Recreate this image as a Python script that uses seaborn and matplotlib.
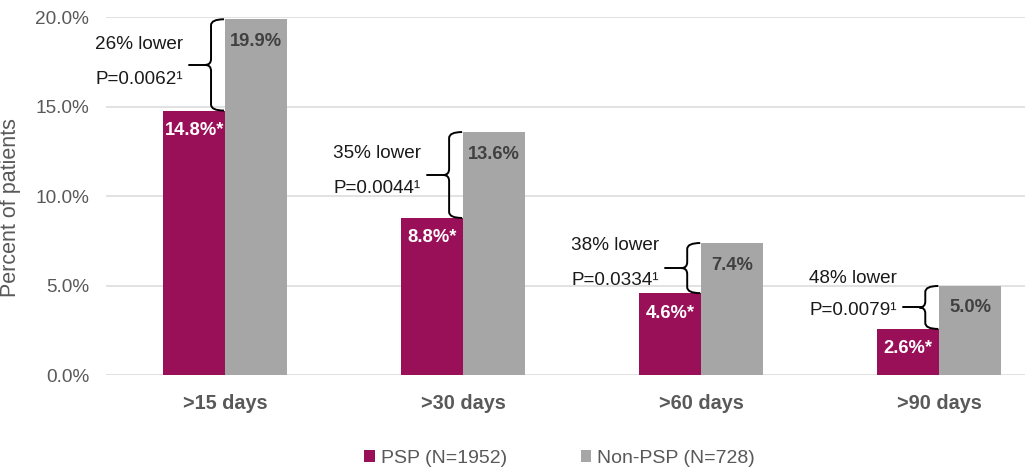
import numpy as np
import pandas as pd
import matplotlib
matplotlib.use("Agg")
import matplotlib.pyplot as plt
import seaborn as sns
from matplotlib.path import Path
from matplotlib.patches import PathPatch, Patch
from matplotlib.lines import Line2D

# data
periods = [">15 days", ">30 days", ">60 days", ">90 days"]
groups = ["PSP (N=1952)", "Non-PSP (N=728)"]
psp_pct = [14.8, 8.8, 4.6, 2.6]
non_psp_pct = [19.9, 13.6, 7.4, 5.0]
pct_lower = ["26% lower", "35% lower", "38% lower", "48% lower"]
p_values = ["P=0.0062\u00b9", "P=0.0044\u00b9", "P=0.0334\u00b9", "P=0.0079\u00b9"]

df = pd.DataFrame({
    "period": periods * 2,
    "group": [groups[0]] * 4 + [groups[1]] * 4,
    "pct": psp_pct + non_psp_pct,
})

sns.set_theme(style="white")
plt.rcParams["font.family"] = ["Liberation Sans", "DejaVu Sans"]

colors = ["#990F58", "#A6A6A6"]
text_gray = "#595959"

fig = plt.figure(figsize=(10.25, 4.69), dpi=100)
ax = fig.add_axes([0.1034, 0.1994, 0.8966, 0.7633])

sns.barplot(data=df, x="period", y="pct", hue="group", palette=colors,
            width=0.52, saturation=1, linewidth=0, ax=ax, legend=False, zorder=2)

ax.set_ylim(0, 20)
ax.set_xlim(-0.5, 3.36)
ax.set_yticks([0, 5, 10, 15, 20])
ax.set_yticklabels([f"{v:.1f}%" for v in [0, 5, 10, 15, 20]])
ax.yaxis.grid(True, color="#DDDDDD", linewidth=1.2, zorder=0)
ax.set_axisbelow(True)
for s in ax.spines.values():
    s.set_visible(False)
ax.tick_params(axis="y", length=0, pad=12, labelsize=13.7, labelcolor=text_gray)
ax.tick_params(axis="x", length=0, pad=13, labelsize=14.3)
for lab in ax.get_xticklabels():
    lab.set_fontweight("bold")
    lab.set_color(text_gray)
ax.set_xlabel("")
ax.set_ylabel("Percent of patients", fontsize=15.5, color=text_gray)
ax.yaxis.set_label_coords(-0.092, 0.47)

# value labels inside the bar tops
for i, (a, b) in enumerate(zip(psp_pct, non_psp_pct)):
    ax.annotate(f"{a:.1f}%*", (i - 0.13, a), xytext=(0, -20), textcoords="offset pixels",
                ha="center", va="center", fontsize=13.2, fontweight="bold", color="white")
    ax.annotate(f"{b:.1f}%", (i + 0.13, b), xytext=(0, -22), textcoords="offset pixels",
                ha="center", va="center", fontsize=13.2, fontweight="bold", color="#404040")

# braces with notes
fig.canvas.draw()
note_dy = [(20, -15), (22, -13), (23, -12), (29, -3)]
for i, (a, b) in enumerate(zip(psp_pct, non_psp_pct)):
    xc, y_bot = ax.transData.transform((i, a))
    _, y_top = ax.transData.transform((i, b))
    y_mid = (y_top + y_bot) / 2
    x_end, x_v, x_tip = xc - 1, xc - 14, xc - 20
    r = 6
    verts = [(x_end, y_top), (x_v, y_top), (x_v, y_top - r),
             (x_v, y_mid + r),
             (x_v, y_mid), (x_tip, y_mid),
             (x_v, y_mid), (x_v, y_mid - r),
             (x_v, y_bot + r),
             (x_v, y_bot), (x_end, y_bot)]
    codes = [Path.MOVETO, Path.CURVE3, Path.CURVE3,
             Path.LINETO,
             Path.CURVE3, Path.CURVE3,
             Path.CURVE3, Path.CURVE3,
             Path.LINETO,
             Path.CURVE3, Path.CURVE3]
    fig.add_artist(PathPatch(Path(verts, codes), fill=False, edgecolor="black",
                             linewidth=1.4, transform=None))
    fig.add_artist(Line2D([xc - 36, x_tip], [y_mid, y_mid], color="black",
                          linewidth=1.4, transform=None))
    up, down = note_dy[i]
    fig.text((xc - 130) / fig.bbox.width, (y_mid + up) / fig.bbox.height, pct_lower[i],
             ha="left", va="center", fontsize=13.6, color="#1A1A1A")
    fig.text((xc - 130) / fig.bbox.width, (y_mid + down) / fig.bbox.height, p_values[i],
             ha="left", va="center", fontsize=13.6, color="#1A1A1A")

handles = [Patch(facecolor=c, edgecolor="none") for c in colors]
fig.legend(handles, groups, loc="center", bbox_to_anchor=(0.546, 0.022), ncol=2,
           frameon=False, fontsize=14, labelcolor=text_gray, handlelength=0.55,
           handleheight=0.55, handletextpad=0.3, columnspacing=3.8)

fig.savefig("out.png", dpi=100)
